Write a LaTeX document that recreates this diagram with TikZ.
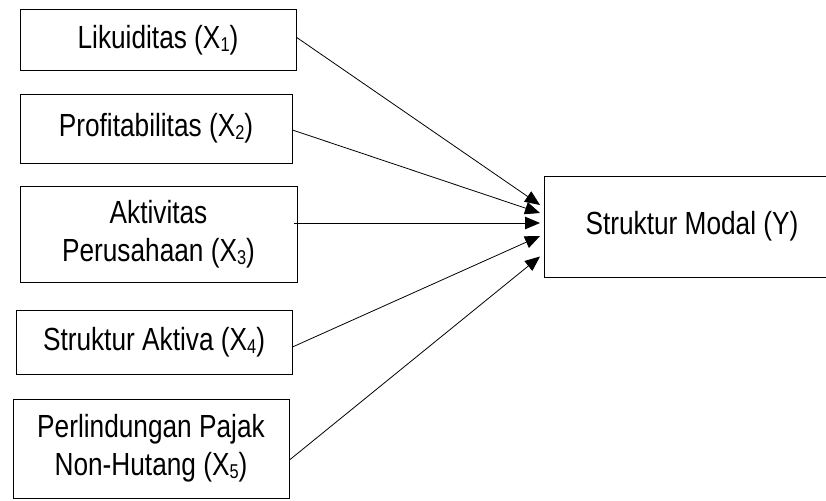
\documentclass[tikz,border=0pt]{standalone}
\usepackage{fontspec}
\setmainfont[FakeStretch=0.82]{Liberation Sans}
\usetikzlibrary{arrows.meta}
% small lowered index digit
\newcommand{\idx}[1]{\raisebox{-3pt}{\fontsize{20}{20}\selectfont #1}}
\begin{document}
\begin{tikzpicture}[x=1pt,y=-1pt,
  box/.style={draw=black,line width=0.9pt,rectangle,inner sep=0pt,align=center,
    font=\fontsize{32}{38}\selectfont},
  arr/.style={line width=0.8pt,-{Triangle[length=15pt,width=12.5pt]}}]
\useasboundingbox (0,0) rectangle (826,500);
\clip (0,0) rectangle (826,500);
% independent variables
\node[box,minimum width=276pt,minimum height=61pt] (x1) at (158,40.3) {Likuiditas (X\idx{1})};
\node[box,minimum width=272pt,minimum height=69pt] (x2) at (156,128.5) {Profitabilitas (X\idx{2})};
\node[box,minimum width=277pt,minimum height=96pt] (x3) at (158.5,234) {Aktivitas\\Perusahaan (X\idx{3})};
\node[box,minimum width=276pt,minimum height=64pt] (x4) at (154,342) {Struktur Aktiva (X\idx{4})};
\node[box,minimum width=276pt,minimum height=99pt] (x5) at (151,448.5) {Perlindungan Pajak\\Non-Hutang (X\idx{5})};
% dependent variable
\node[box,minimum width=296pt,minimum height=101pt] (y) at (692,226.5) {Struktur Modal (Y)};
% arrow tips in front of the dependent box
\coordinate (t1) at (540,205);
\coordinate (t2) at (540,213);
\coordinate (t3) at (540,223);
\coordinate (t4) at (540,236);
\coordinate (t5) at (540,256.5);
\draw[arr] ([yshift=3pt]x1.east) -- (t1);
\draw[arr] ([yshift=-1.5pt]x2.east) -- (t2);
\draw[arr] ([xshift=-3pt,yshift=11pt]x3.east) -- (t3);
\draw[arr] ([yshift=-5pt]x4.east) -- (t4);
\draw[arr] ([yshift=-11.5pt]x5.east) -- (t5);
\end{tikzpicture}
\end{document}
